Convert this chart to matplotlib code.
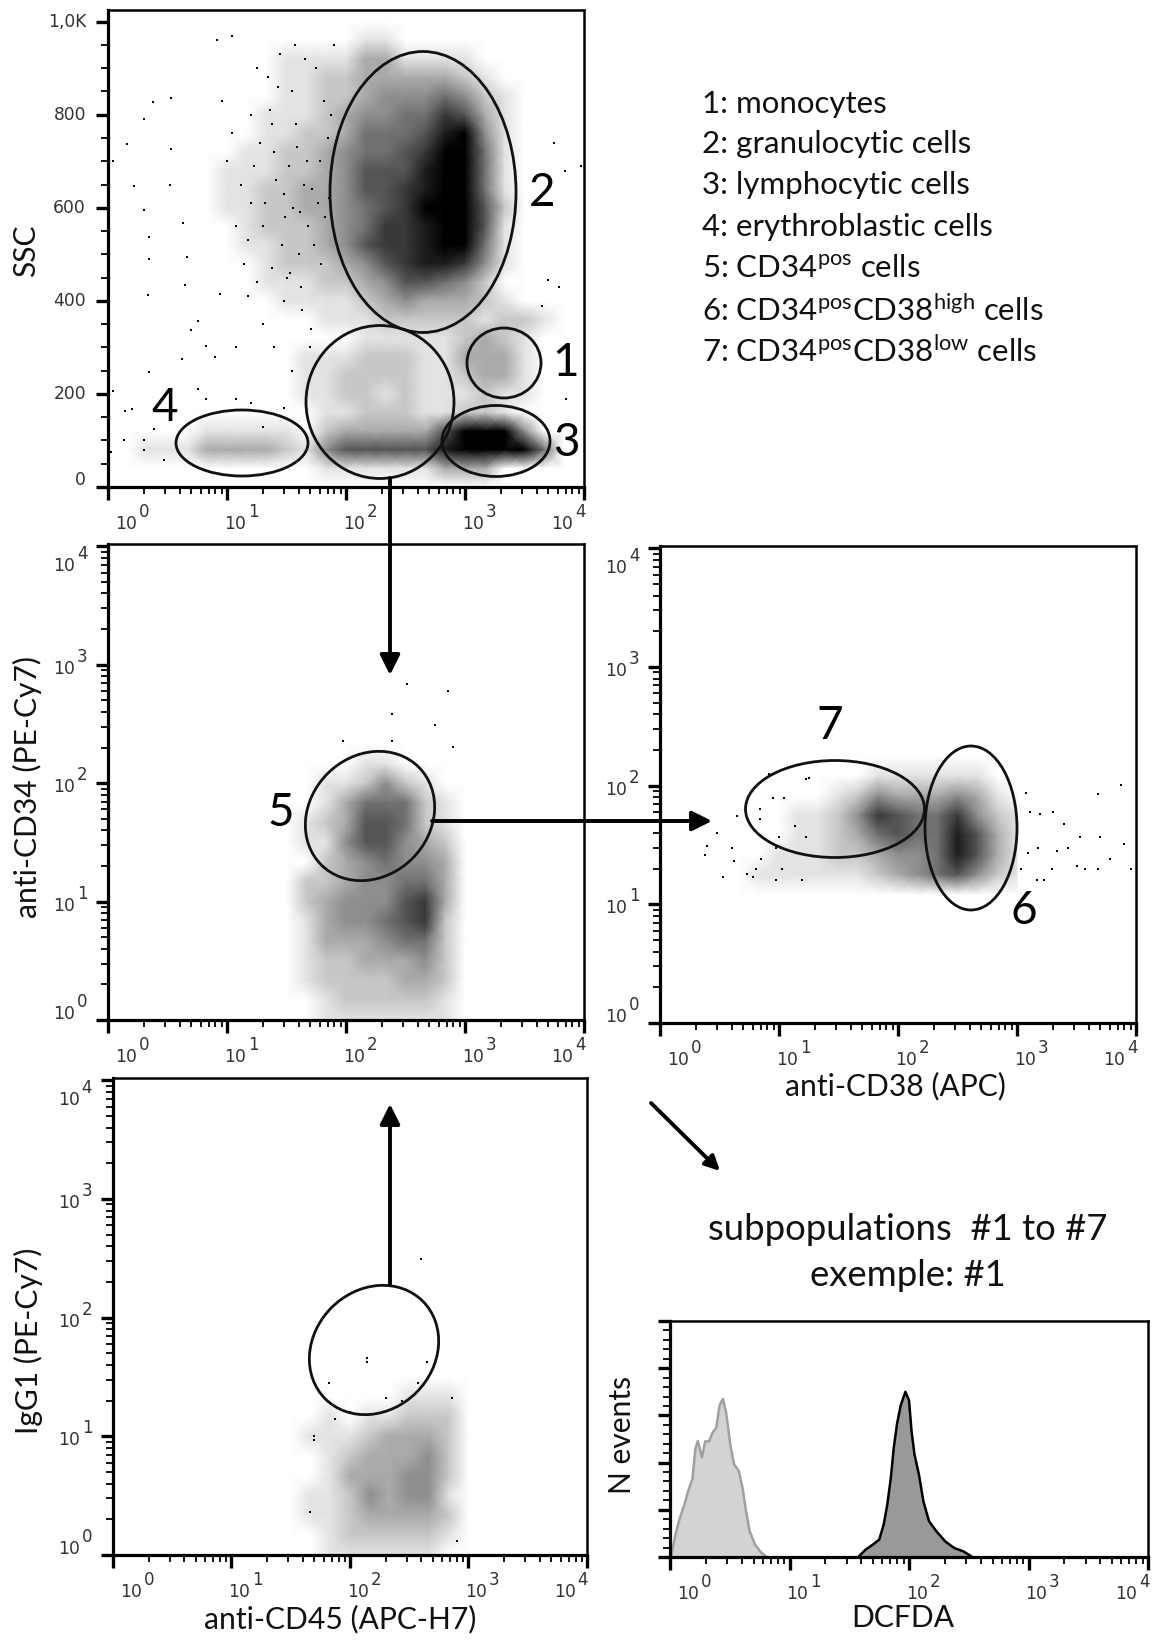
"""Flow cytometry gating figure: four dot plots and one DCFDA histogram."""
import matplotlib

matplotlib.use("Agg")
import matplotlib.pyplot as plt
import numpy as np
from matplotlib.colors import LinearSegmentedColormap
from matplotlib.patches import Ellipse, FancyArrowPatch

plt.rcParams["font.family"] = ["Lato", "DejaVu Sans"]
plt.rcParams["mathtext.fontset"] = "custom"
plt.rcParams["mathtext.rm"] = "Lato"
plt.rcParams["mathtext.default"] = "rm"

W, H = 1152, 1641

# event density, 0 = empty, 9 = solid black.
# rows run from the top of the cloud down.
SSC_ROWS = [1000, 960, 920, 880, 840, 800, 760, 720, 680, 640, 600, 560, 520,
            480, 440, 400, 360, 320, 280, 240, 200, 160, 120, 80, 40, 0]
SSC_DENSITY = [
    "0000000000000000000000000",
    "0000000000000110000000000",
    "0000000001111331111000000",
    "0000000001122333332100000",
    "0000000001122344454210000",
    "0000000011123445576310000",
    "0000000011223555689410000",
    "0000000112234556799510000",
    "0000001112234666899510000",
    "0000001122334667899510000",
    "0000001122334567999620000",
    "0000000122234577899610000",
    "0000000112234677899510000",
    "0000000012223467887410000",
    "0000000011122346654200000",
    "0000000001111234333210000",
    "0000000000011122222122100",
    "0000000000000111112321000",
    "0000000000111222113331000",
    "0000000000112222112331000",
    "0000000000112212111211000",
    "0000000000011222112210000",
    "0000011111023333369994000",
    "0011133332146666689999500",
    "0000000000011111133300000",
    "0000000000000000000000000",
]
CD34_COLS = [1.5, 1.667, 1.833, 2.0, 2.167, 2.333, 2.5, 2.667, 2.833, 3.0]
CD34_ROWS = [2.5, 2.333, 2.167, 2.0, 1.833, 1.667, 1.5, 1.333, 1.167, 1.0,
             0.833, 0.667, 0.5, 0.333, 0.167, 0.0]
CD34_DENSITY = [
    "0000000000",
    "0000000000",
    "0000110000",
    "0011242100",
    "0013555210",
    "0123665210",
    "0114664320",
    "0023454430",
    "0223445530",
    "0234446730",
    "0134456720",
    "0133345520",
    "0122333420",
    "0122223320",
    "0012222210",
    "0011111110",
]
CD38_COLS = [0.5, 0.667, 0.833, 1.0, 1.167, 1.333, 1.5, 1.667, 1.833, 2.0,
             2.167, 2.333, 2.5, 2.667, 2.833, 3.0]
CD38_ROWS = [2.25, 2.083, 1.917, 1.75, 1.583, 1.417, 1.25, 1.083]
CD38_DENSITY = [
    "0000000000000000",
    "0000000011111100",
    "0000001243334310",
    "0000112476557421",
    "0000112356558631",
    "0001112234458631",
    "0011111123456421",
    "0000000000000000",
]
IGG_COLS = CD34_COLS
IGG_ROWS = [1.5, 1.333, 1.167, 1.0, 0.833, 0.667, 0.5, 0.333, 0.167, 0.0]
IGG_DENSITY = [
    "0000000000",
    "0000001110",
    "0010112220",
    "0111233320",
    "0012333420",
    "0013334420",
    "0112434410",
    "0112333320",
    "0012222210",
    "0011111100",
]

# single events that stand clear of the clouds
SSC_X = [8.2, 11, 2.4, 3.4, 2, 1.45, 1.1, 1.65, 2, 2.2, 2.2, 2.15, 3.4, 3.3, 4.3,
         4.6, 4.4, 8.7, 5, 5.7, 6.7, 4.2, 2.2, 1.1, 1.4, 1.6, 1.35, 1.05, 2, 2,
         2.95, 2.45, 5.7, 6.7, 10, 13, 16, 20, 25, 30, 35, 40, 22, 14, 12, 18,
         28, 45, 9, 11, 16, 24, 33, 38, 48, 52, 60, 58, 42, 30, 20, 15, 12, 25,
         35, 50, 8, 16, 30, 20, 12, 5000, 6200, 5600, 6900, 4400, 9500, 7000,
         17, 21, 26, 31, 36, 44, 54, 66, 72, 19, 23, 29, 34, 41, 47, 62, 70, 27,
         37, 56, 15, 18, 24, 39, 65, 75, 80, 43, 51, 32]
SSC_Y = [960, 970, 828, 835, 790, 738, 700, 647, 595, 538, 489, 413, 727, 650,
         567, 495, 433, 415, 338, 356, 302, 276, 247, 207, 164, 167, 102, 76,
         102, 80, 58, 124, 211, 189, 700, 650, 800, 560, 720, 630, 850, 500,
         880, 480, 560, 900, 930, 920, 830, 760, 610, 470, 690, 780, 560, 640,
         700, 610, 430, 400, 350, 410, 300, 300, 250, 300, 280, 180, 170, 130,
         190, 445, 430, 740, 680, 390, 690, 190,
         690, 610, 660, 580, 600, 650, 520, 580, 620, 740, 810, 520, 460, 590,
         700, 480, 750, 860, 950, 900, 530, 440, 780, 730, 830, 800, 950, 380,
         340, 450]
CD34_X = [325, 720, 243, 562, 95, 243, 800]
CD34_Y = [690, 600, 387, 310, 225, 225, 203]
CD38_X = [7450, 4800, 3400, 5000, 8000, 6100, 9000, 4800, 3700, 3200, 2500, 2000,
          1550, 1290, 1200, 2700, 2150, 1950, 1480, 1700, 1500, 1230, 1080, 4.4,
          3, 2.5, 2.4, 4, 4.2, 3.4, 5.4, 6, 7.1, 6.4, 8.3, 8.9, 6.9, 6.9, 11,
          10, 9.5, 9.4, 10.5, 17, 18, 15.5, 13.5, 17]
CD38_Y = [102, 85, 37, 37, 32, 24, 20, 20, 20, 21, 48, 60, 58, 60, 87, 30, 28, 20,
          16, 16, 30, 27, 20, 55, 40, 31, 26, 30, 23, 17, 18, 17, 24, 20, 125, 78,
          63, 52, 78, 37, 30, 16, 20, 113, 115, 16, 46, 37]
IGG_X = [398, 138, 138, 445, 67, 372, 200, 275, 100, 50, 50, 46, 800, 74, 720]
IGG_Y = [315, 46, 42, 42, 28, 28, 21, 20, 16, 10, 9.3, 2.3, 1.3, 14, 21]

# DCFDA histograms
UNSTAINED_X = [1.02, 1.11, 1.21, 1.32, 1.42, 1.54, 1.63, 1.71, 1.85, 1.97, 2.12,
               2.28, 2.44, 2.60, 2.77, 2.95, 3.21, 3.44, 3.77, 4.04, 4.33, 4.64,
               5.15, 5.72, 6.44]
UNSTAINED_Y = [0, 0.475, 0.83, 1.11, 1.40, 1.65, 2.29, 2.46, 2.11, 2.45, 2.45,
               2.64, 2.74, 3.21, 3.35, 3.06, 2.35, 1.96, 1.82, 1.47, 0.97, 0.55,
               0.26, 0.11, 0]
STAINED_X = [37.6, 43.3, 49.8, 56.4, 61.4, 65.8, 70.5, 74.6, 79.4, 85.2, 93.3, 100,
             105, 111, 121, 132, 147, 169, 201, 239, 285, 339]
STAINED_Y = [0, 0.156, 0.262, 0.369, 0.688, 1.11, 1.68, 2.32, 2.82, 3.21, 3.50,
             3.32, 2.67, 2.18, 1.75, 1.18, 0.76, 0.55, 0.33, 0.19, 0.12, 0]

LEGEND = [
    "1: monocytes",
    "2: granulocytic cells",
    "3: lymphocytic cells",
    "4: erythroblastic cells",
    r"5: CD34$^{\mathrm{pos}}$ cells",
    r"6: CD34$^{\mathrm{pos}}$CD38$^{\mathrm{high}}$ cells",
    r"7: CD34$^{\mathrm{pos}}$CD38$^{\mathrm{low}}$ cells",
]
SSC_TICKS = [0, 200, 400, 600, 800, 1000]
SSC_LABELS = ["0", "200", "400", "600", "800", "1,0K"]

TICK_GREY = "#333333"
density_cmap = LinearSegmentedColormap.from_list("dots", ["white", "black"])


def panel(fig, left, top, right, bottom):
    ax = fig.add_axes([left / W, 1 - bottom / H, (right - left) / W, (bottom - top) / H])
    for side, spine in ax.spines.items():
        spine.set_linewidth(2.3 if side in ("left", "bottom") else 1.8)
    ax.tick_params(which="major", direction="out", length=9, width=2.4,
                   labelbottom=False, labelleft=False)
    ax.tick_params(which="minor", direction="out", length=5, width=1.3,
                   labelbottom=False, labelleft=False)
    return ax


def power_label(ax, exp, transform, x, y, dx, dy):
    for txt, ox, oy, size in ((("10"), 0, 0, 12.3), (str(exp), 18, 12, 12)):
        ax.annotate(txt, xy=(x, y), xycoords=transform, xytext=(dx + ox, dy + oy),
                    textcoords="offset pixels", ha="center", va="center",
                    fontsize=size, color=TICK_GREY, family="DejaVu Sans",
                    annotation_clip=False)


def log_x(ax):
    ax.set_xscale("log")
    ax.set_xlim(1, 1e4)
    ax.set_xticks([1, 10, 100, 1000, 10000])
    for exp, dx in enumerate([18, 8, 8, 8, -22]):
        power_label(ax, exp, ax.get_xaxis_transform(), 10.0 ** exp, 0, dx, -37)


def log_y(ax):
    ax.set_yscale("log")
    ax.set_ylim(1, 10 ** 4.02)
    ax.set_yticks([1, 10, 100, 1000, 10000])
    for exp, dy in enumerate([6, -4, -4, -4, -20]):
        power_label(ax, exp, ax.get_yaxis_transform(), 0, 10.0 ** exp, -44, dy)


def dots(ax, cols, rows, density, xs, ys):
    grid = np.array([[int(c) for c in r] for r in density], dtype=float)
    ax.pcolormesh(cols, rows, grid, shading="gouraud", cmap=density_cmap,
                  vmin=0, vmax=9, rasterized=True)
    ax.plot(xs, ys, linestyle="none", marker="s", ms=1.5, mew=0, color="black")


fig = plt.figure(figsize=(W / 100, H / 100), dpi=100)

# SSC vs CD45
ax_ssc = panel(fig, 108, 10, 584, 487)
log_x(ax_ssc)
ax_ssc.set_ylim(0, 1025)
ax_ssc.set_yticks(SSC_TICKS)
ax_ssc.set_yticks(np.arange(0, 1001, 50), minor=True)
dots(ax_ssc, 10.0 ** (np.arange(25) / 6), SSC_ROWS, SSC_DENSITY, SSC_X, SSC_Y)
for tick, lab in zip(SSC_TICKS, SSC_LABELS):
    shift = 7 if tick == 0 else 0
    ax_ssc.annotate(lab, xy=(0, tick), xycoords=ax_ssc.get_yaxis_transform(),
                    xytext=(-22, shift), textcoords="offset pixels", ha="right",
                    va="center", fontsize=12.3, color=TICK_GREY, family="DejaVu Sans")

# CD34 vs CD45
ax_cd34 = panel(fig, 108, 544, 584, 1020)
log_x(ax_cd34)
log_y(ax_cd34)
dots(ax_cd34, 10.0 ** np.array(CD34_COLS), 10.0 ** np.array(CD34_ROWS), CD34_DENSITY,
     CD34_X, CD34_Y)

# CD34 vs CD38
ax_cd38 = panel(fig, 660, 546, 1136, 1023)
log_x(ax_cd38)
log_y(ax_cd38)
dots(ax_cd38, 10.0 ** np.array(CD38_COLS), 10.0 ** np.array(CD38_ROWS), CD38_DENSITY,
     CD38_X, CD38_Y)

# isotype control
ax_igg = panel(fig, 113, 1078, 587, 1555)
log_x(ax_igg)
log_y(ax_igg)
dots(ax_igg, 10.0 ** np.array(IGG_COLS), 10.0 ** np.array(IGG_ROWS), IGG_DENSITY,
     IGG_X, IGG_Y)

# DCFDA histogram
ax_hist = panel(fig, 670, 1321, 1148, 1557)
log_x(ax_hist)
ax_hist.set_ylim(0, 5)
ax_hist.set_yticks(range(6))
ax_hist.set_yticks(np.arange(0, 5.01, 0.2), minor=True)
ax_hist.fill_between(UNSTAINED_X, UNSTAINED_Y, color="#d3d3d3", lw=0)
ax_hist.plot(UNSTAINED_X, UNSTAINED_Y, color="#a0a0a0", lw=1.8)
ax_hist.fill_between(STAINED_X, STAINED_Y, color="#999999", lw=0)
ax_hist.plot(STAINED_X, STAINED_Y, color="black", lw=1.8)

# everything drawn across panels lives on a pixel overlay
over = fig.add_axes([0, 0, 1, 1], zorder=10)
over.set_xlim(0, W)
over.set_ylim(H, 0)
over.axis("off")

GATES = [(423, 192, 186, 281, 0), (380, 402, 148, 153, 0), (504, 363, 74, 70, 0),
         (496, 441, 108, 71, 0), (242, 443, 132, 66, 0), (370, 816, 138, 120, -45),
         (971, 828, 92, 164, 0), (835, 809, 179, 97, 0), (374, 1350, 138, 120, -45)]
for cx, cy, w, h, angle in GATES:
    over.add_patch(Ellipse((cx, cy), w, h, angle=angle, fill=False, ec="#111111", lw=2.0))

ARROWS = [((390, 478), (390, 675), 30), ((432, 821), (712, 821), 30),
          ((390, 1284), (390, 1104), 30), ((651, 1103), (720, 1171), 22)]
for start, end, head in ARROWS:
    over.add_patch(FancyArrowPatch(start, end, arrowstyle="-|>", mutation_scale=head,
                                   lw=2.8, color="black", shrinkA=0, shrinkB=0))

for y, line in zip([104, 144, 185, 227, 268, 310, 351], LEGEND):
    over.text(702, y, line, fontsize=22.5, va="center", ha="left", color="#111111")

NUMBERS = [("1", 566, 363), ("2", 542, 193), ("3", 566, 443), ("4", 165, 408),
           ("5", 281, 813), ("6", 1024, 911), ("7", 830, 726)]
for lab, x, y in NUMBERS:
    over.text(x, y, lab, fontsize=33, ha="center", va="center", color="black")

AXIS_LABELS = [("SSC", 26, 251, 90), ("anti-CD34 (PE-Cy7)", 27, 787, 90),
               ("IgG1 (PE-Cy7)", 28, 1341, 90), ("N events", 622, 1435, 90),
               ("anti-CD38 (APC)", 895, 1086, 0), ("anti-CD45 (APC-H7)", 340, 1619, 0),
               ("DCFDA", 903, 1618, 0)]
for lab, x, y, rot in AXIS_LABELS:
    over.text(x, y, lab, fontsize=21.6, rotation=rot, ha="center", va="center",
              color="#111111")

over.text(908, 1229, "subpopulations  #1 to #7", fontsize=26.3, ha="center", va="center",
          color="#111111")
over.text(908, 1275, "exemple: #1", fontsize=26.3, ha="center", va="center", color="#111111")

fig.savefig("out.png", dpi=100)
plt.close(fig)
